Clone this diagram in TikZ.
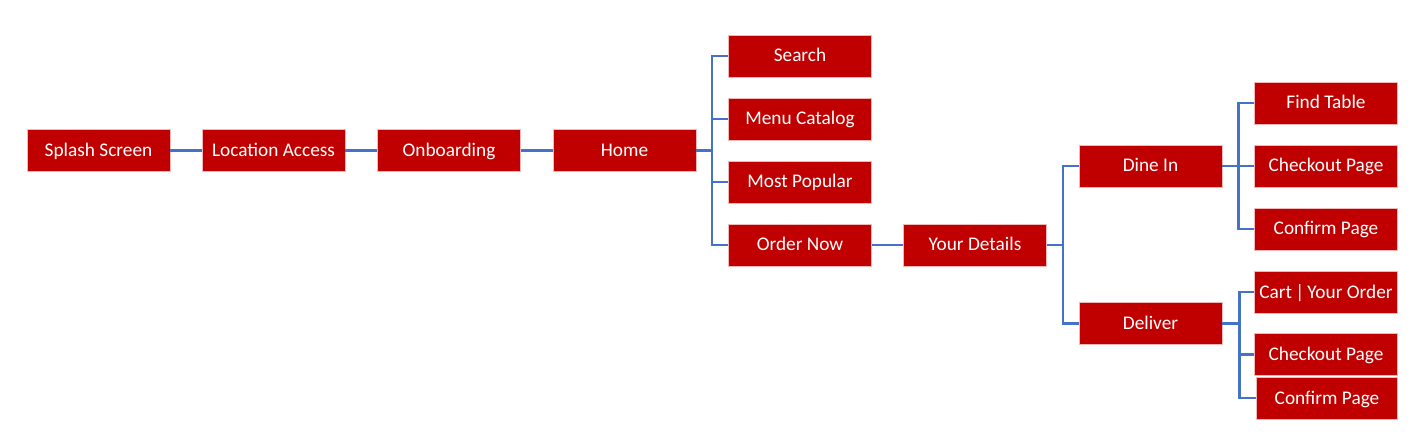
\documentclass[tikz,border=0pt]{standalone}
\usepackage{fontspec}
\setmainfont{Carlito}
\definecolor{boxred}{HTML}{C00000}
\definecolor{linkblue}{HTML}{4472C4}
\definecolor{edgepink}{HTML}{F2B8B8}
\begin{document}
\begin{tikzpicture}[x=1pt,y=-1pt,
  pagebox/.style={rectangle, fill=boxred, draw=edgepink, line width=0.6pt,
    minimum width=143pt, minimum height=42pt, inner sep=0pt,
    text height=13pt, text depth=1pt,
    text=white, font=\fontsize{19.3}{21}\selectfont},
  link/.style={draw=linkblue, line width=2.2pt}]
\useasboundingbox (0,0) rectangle (1412,438);
\node[pagebox] (splash) at (98.5,150.5) {Splash Screen};
\node[pagebox] (loc) at (273.5,150.5) {Location Access};
\node[pagebox] (onb) at (449,150.5) {Onboarding};
\node[pagebox] (home) at (624.5,150.5) {Home};
\node[pagebox] (search) at (800,56) {Search};
\node[pagebox] (menu) at (800,119) {Menu Catalog};
\node[pagebox] (popular) at (800,182) {Most Popular};
\node[pagebox] (order) at (800,245) {Order Now};
\node[pagebox] (details) at (975,245) {Your Details};
\node[pagebox] (dine) at (1150.5,166) {Dine In};
\node[pagebox] (deliver) at (1150.5,323.5) {Deliver};
\node[pagebox] (find) at (1326,103) {Find Table};
\node[pagebox] (check1) at (1326,166) {Checkout Page};
\node[pagebox] (confirm1) at (1326,229) {Confirm Page};
\node[pagebox] (cart) at (1326,292) {Cart\,|\,Your Order};
\node[pagebox] (check2) at (1326,354.5) {Checkout Page};
\node[pagebox, minimum width=141pt] (confirm2) at (1327,398) {Confirm Page};

\coordinate (hb) at (712,150.5);
\coordinate (db) at (1063,245);
\coordinate (ib) at (1238.5,166);
\coordinate (vb) at (1239.5,323.5);

\draw[link] (splash) -- (loc);
\draw[link] (loc) -- (onb);
\draw[link] (onb) -- (home);
\draw[link] (home.east) -- (hb);
\draw[link] (hb) |- (search.west);
\draw[link] (hb) |- (menu.west);
\draw[link] (hb) |- (popular.west);
\draw[link] (hb) |- (order.west);
\draw[link] (order) -- (details);
\draw[link] (details.east) -- (db);
\draw[link] (db) |- (dine.west);
\draw[link] (db) |- (deliver.west);
\draw[link] (dine.east) -- (ib);
\draw[link] (ib) |- (find.west);
\draw[link] (ib) |- (check1.west);
\draw[link] (ib) |- (confirm1.west);
\draw[link] (deliver.east) -- (vb);
\draw[link] (vb) |- (cart.west);
\draw[link] (vb) |- (check2.west);
\draw[link] (vb) |- (confirm2.west);
\end{tikzpicture}
\end{document}
